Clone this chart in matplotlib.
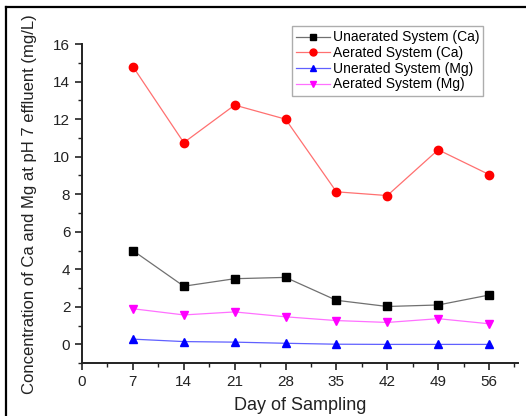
import matplotlib
matplotlib.use("Agg")
import matplotlib.pyplot as plt
from matplotlib.ticker import MultipleLocator
from matplotlib.lines import Line2D

plt.rcParams['font.family'] = ['Liberation Sans', 'DejaVu Sans']

days = [7, 14, 21, 28, 35, 42, 49, 56]
unaerated_ca = [5.0, 3.1, 3.5, 3.57, 2.35, 2.02, 2.1, 2.63]
aerated_ca = [14.8, 10.75, 12.75, 12.0, 8.13, 7.93, 10.37, 9.05]
unaerated_mg = [0.28, 0.15, 0.12, 0.06, 0.01, 0.0, 0.0, 0.0]
aerated_mg = [1.9, 1.57, 1.73, 1.47, 1.27, 1.17, 1.37, 1.1]

labels = ["Unaerated System (Ca)", "Aerated System (Ca)",
          "Unerated System (Mg)", "Aerated System (Mg)"]
x_ticks = [0, 7, 14, 21, 28, 35, 42, 49, 56]
y_ticks = [0, 2, 4, 6, 8, 10, 12, 14, 16]

fig = plt.figure(figsize=(5.26, 4.16), dpi=100)
ax = fig.add_axes([0.156, 0.127, 0.829, 0.767])

series = [
    (unaerated_ca, 's', 5.5, '#000000', '#707070'),
    (aerated_ca, 'o', 6.0, '#ff0000', '#ff7070'),
    (unaerated_mg, '^', 6.0, '#0000ff', '#6060ff'),
    (aerated_mg, 'v', 6.0, '#ff00ff', '#ff70ff'),
]
handles = []
for vals, mk, ms, mc, lc in series:
    ax.plot(days, vals, color=lc, lw=0.9, zorder=2)
    ax.plot(days, vals, ls='none', marker=mk, ms=ms, mfc=mc, mec=mc, zorder=3)
    handles.append(Line2D([], [], color=lc, lw=0.9, marker=mk, ms=ms - 1, mfc=mc, mec=mc))

ax.set_xlim(0, 60)
ax.set_ylim(-1, 16)
ax.set_xticks(x_ticks)
ax.set_yticks(y_ticks)
ax.xaxis.set_minor_locator(MultipleLocator(3.5))
ax.yaxis.set_minor_locator(MultipleLocator(1))
ax.tick_params(which='major', direction='out', length=5, width=1.2, labelsize=11, colors='#222222')
ax.tick_params(which='minor', direction='out', length=3, width=1.0, colors='#222222')
for s in ['top', 'right']:
    ax.spines[s].set_visible(False)
for s in ['left', 'bottom']:
    ax.spines[s].set_linewidth(1.4)
    ax.spines[s].set_color('#222222')

ax.set_xlabel("Day of Sampling", fontsize=13, color='#222222', labelpad=6)
ax.set_ylabel("Concentration of Ca and Mg at pH 7 effluent (mg/L)", fontsize=12, color='#222222', labelpad=12)

leg = ax.legend(handles, labels, loc='upper right', bbox_to_anchor=(0.92, 1.056),
                fontsize=10, frameon=True, fancybox=False, handlelength=2.4,
                handletextpad=0.2, borderpad=0.3, labelspacing=0.12, borderaxespad=0)
leg.get_frame().set_edgecolor('#999999')
leg.get_frame().set_linewidth(1.0)

# outer frame along the top and left edges
fig.add_artist(Line2D([6/526, 1.0], [1 - 7/416, 1 - 7/416], transform=fig.transFigure, color='black', lw=1.6))
fig.add_artist(Line2D([6/526, 6/526], [0.0, 1 - 7/416], transform=fig.transFigure, color='black', lw=1.6))

fig.savefig("out.png", dpi=100)
